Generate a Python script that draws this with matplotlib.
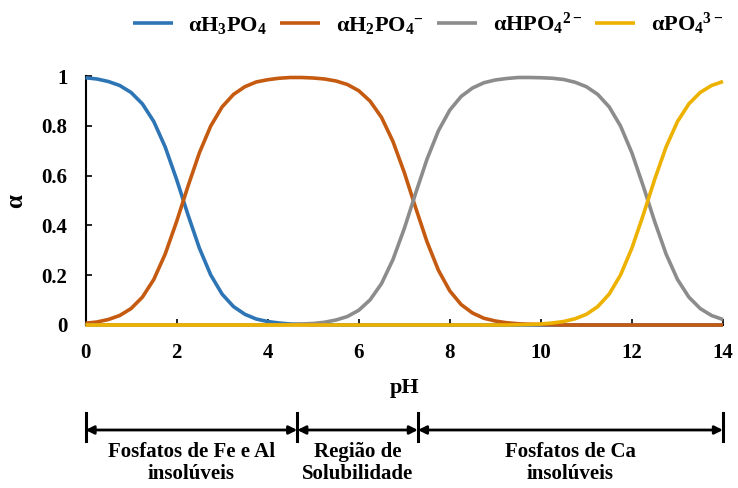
import matplotlib
matplotlib.use("Agg")
import matplotlib.pyplot as plt
from matplotlib.transforms import blended_transform_factory

plt.rcParams['font.family'] = ['Liberation Serif', 'DejaVu Serif']
plt.rcParams['font.weight'] = 'bold'
plt.rcParams['mathtext.fontset'] = 'custom'
plt.rcParams['mathtext.rm'] = 'Liberation Serif:bold'
plt.rcParams['mathtext.it'] = 'Liberation Serif:bold:italic'
plt.rcParams['mathtext.bf'] = 'Liberation Serif:bold'
plt.rcParams['mathtext.default'] = 'rm'

ph = [0, 0.25, 0.5, 0.75, 1, 1.25, 1.5, 1.75, 2, 2.25, 2.5, 2.75, 3, 3.25,
      3.5, 3.75, 4, 4.25, 4.5, 4.75, 5, 5.25, 5.5, 5.75, 6, 6.25, 6.5, 6.75,
      7, 7.25, 7.5, 7.75, 8, 8.25, 8.5, 8.75, 9, 9.25, 9.5, 9.75, 10, 10.25,
      10.5, 10.75, 11, 11.25, 11.5, 11.75, 12, 12.25, 12.5, 12.75, 13, 13.25,
      13.5, 13.75, 14]

a_h3po4 = [0.993, 0.988, 0.978, 0.962, 0.934, 0.888, 0.817, 0.715, 0.585, 0.443,
           0.309, 0.201, 0.124, 0.074, 0.043, 0.024, 0.014, 0.008, 0.004, 0.002,
           0.001, 0.001, 0, 0, 0, 0, 0, 0, 0, 0, 0, 0, 0, 0, 0, 0, 0, 0, 0, 0,
           0, 0, 0, 0, 0, 0, 0, 0, 0, 0, 0, 0, 0, 0, 0, 0, 0]

a_h2po4 = [0.007, 0.012, 0.022, 0.038, 0.066, 0.112, 0.183, 0.285, 0.415, 0.557,
           0.691, 0.799, 0.876, 0.926, 0.957, 0.976, 0.985, 0.991, 0.994, 0.994,
           0.992, 0.988, 0.980, 0.966, 0.941, 0.899, 0.834, 0.738, 0.613, 0.471,
           0.334, 0.220, 0.137, 0.082, 0.048, 0.027, 0.016, 0.009, 0.005, 0.003,
           0.002, 0.001, 0, 0, 0, 0, 0, 0, 0, 0, 0, 0, 0, 0, 0, 0, 0]

a_hpo4 = [0, 0, 0, 0, 0, 0, 0, 0, 0, 0, 0, 0, 0, 0, 0, 0, 0.001, 0.001, 0.002,
          0.004, 0.006, 0.011, 0.020, 0.034, 0.059, 0.101, 0.166, 0.262, 0.387,
          0.529, 0.666, 0.780, 0.863, 0.918, 0.952, 0.973, 0.984, 0.990, 0.994,
          0.994, 0.993, 0.991, 0.986, 0.975, 0.957, 0.926, 0.876, 0.799, 0.691,
          0.557, 0.415, 0.285, 0.183, 0.112, 0.066, 0.038, 0.022]

a_po4 = [0, 0, 0, 0, 0, 0, 0, 0, 0, 0, 0, 0, 0, 0, 0, 0, 0, 0, 0, 0, 0, 0, 0,
         0, 0, 0, 0, 0, 0, 0, 0, 0, 0, 0, 0, 0, 0, 0, 0.001, 0.002, 0.004,
         0.008, 0.014, 0.025, 0.043, 0.074, 0.124, 0.201, 0.309, 0.443, 0.585,
         0.715, 0.817, 0.888, 0.934, 0.962, 0.978]

series_labels = ['αH$_3$PO$_4$', 'αH$_2$PO$_4$$^{-}$', 'αHPO$_4$$^{2-}$', 'αPO$_4$$^{3-}$']
series_colors = ['#2E75B6', '#C55A11', '#8C8C8C', '#EDB200']

xticks = [0, 2, 4, 6, 8, 10, 12, 14]
yticks = [0, 0.2, 0.4, 0.6, 0.8, 1]
ytick_labels = ['0', '0.2', '0.4', '0.6', '0.8', '1']

region_bounds = [0, 4.65, 7.3, 14]
region_labels = ['Fosfatos de Fe e Al\ninsolúveis', 'Região de\nSolubilidade',
                 'Fosfatos de Ca\ninsolúveis']

W, H = 738, 488
fig = plt.figure(figsize=(W / 100, H / 100), dpi=100)
ax = fig.add_axes([85.5 / W, 1 - 325 / H, (723 - 85.5) / W, (325 - 76) / H])

for ys, lab, col in zip([a_h3po4, a_h2po4, a_hpo4, a_po4], series_labels, series_colors):
    ax.plot(ph, ys, color=col, lw=2.6, label=lab, clip_on=False,
            solid_capstyle='butt', solid_joinstyle='round', zorder=3)

ax.set_xlim(0, 14)
ax.set_ylim(0, 1)
ax.set_xticks(xticks)
ax.set_xticklabels([str(t) for t in xticks])
ax.set_yticks(yticks)
ax.set_yticklabels(ytick_labels)
ax.tick_params(direction='in', length=4, width=1.2, labelsize=15, pad=13)
for s in ['top', 'right']:
    ax.spines[s].set_visible(False)
for s in ['left', 'bottom']:
    ax.spines[s].set_linewidth(1.5)

ax.set_xlabel('pH', fontsize=16, fontweight='bold', va='center')
ax.xaxis.set_label_coords(0.5, -0.253)
ax.set_ylabel('α', fontsize=18, fontweight='bold')
ax.yaxis.set_label_coords(-0.092, 0.5)

fig.legend(loc='center', bbox_to_anchor=(428 / W, 1 - 24 / H), ncol=4, frameon=False,
           fontsize=16, handlelength=1.8, handletextpad=0.7, columnspacing=0.6)

tr = blended_transform_factory(ax.transData, fig.transFigure)
y_arrow = 1 - 430 / H
for b in region_bounds:
    ax.plot([b, b], [1 - 413 / H, 1 - 441 / H], transform=tr, color='black', lw=2.2,
            clip_on=False)
for i in range(len(region_labels)):
    x0, x1 = region_bounds[i], region_bounds[i + 1]
    ax.annotate('', xy=(x1, y_arrow), xytext=(x0, y_arrow), xycoords=tr, textcoords=tr,
                arrowprops=dict(arrowstyle='<|-|>', color='black', lw=2.0,
                                mutation_scale=12, shrinkA=0, shrinkB=0))
    ax.text((x0 + x1) / 2, 1 - 463 / H, region_labels[i], transform=tr, ha='center',
            va='center', fontsize=15, fontweight='bold', linespacing=1.1)

fig.savefig('out.png', dpi=100)
